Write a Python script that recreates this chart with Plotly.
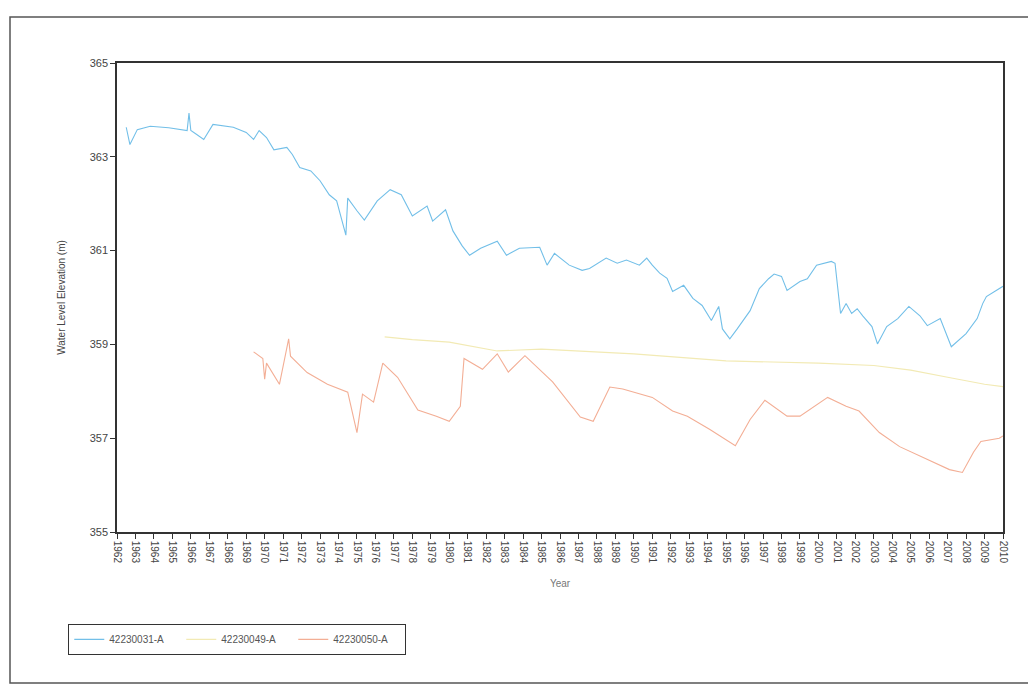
import plotly.graph_objects as go

# Series 42230031-A (blue)
blue_year = [1962.5, 1962.7, 1963.1, 1963.8, 1964.8, 1965.8, 1965.9, 1966.0, 1966.3, 1966.7, 1967.2, 1968.3,
             1969.0, 1969.4, 1969.7, 1970.1, 1970.5, 1971.2, 1971.5, 1971.9, 1972.5, 1973.0, 1973.5, 1973.9,
             1974.4, 1974.5, 1975.0, 1975.4, 1976.1, 1976.8, 1977.4, 1978.0, 1978.8, 1979.1, 1979.8, 1980.2,
             1980.7, 1981.1, 1981.7, 1982.6, 1983.1, 1983.8, 1984.9, 1985.3, 1985.7, 1986.5, 1987.2, 1987.6,
             1988.5, 1989.1, 1989.6, 1990.3, 1990.7, 1991.0, 1991.4, 1991.8, 1992.1, 1992.7, 1993.2, 1993.7,
             1994.2, 1994.6, 1994.8, 1995.2, 1995.6, 1996.3, 1996.8, 1997.3, 1997.6, 1998.0, 1998.3, 1999.0,
             1999.4, 1999.9, 2000.7, 2000.9, 2001.2, 2001.5, 2001.8, 2002.1, 2002.4, 2002.9, 2003.2, 2003.7,
             2004.3, 2004.9, 2005.5, 2005.9, 2006.6, 2007.0, 2007.2, 2008.0, 2008.6, 2008.9, 2009.1, 2010.0]
blue_val = [363.63, 363.26, 363.58, 363.65, 363.62, 363.56, 363.93, 363.56, 363.48, 363.37, 363.69, 363.63,
            363.52, 363.37, 363.56, 363.41, 363.15, 363.20, 363.05, 362.77, 362.70, 362.49, 362.19, 362.06,
            361.33, 362.12, 361.85, 361.65, 362.06, 362.30, 362.19, 361.74, 361.95, 361.63, 361.87, 361.42,
            361.10, 360.90, 361.05, 361.20, 360.90, 361.05, 361.07, 360.69, 360.94, 360.69, 360.58, 360.62,
            360.84, 360.73, 360.80, 360.69, 360.84, 360.69, 360.52, 360.41, 360.13, 360.26, 359.98, 359.83,
            359.51, 359.81, 359.33, 359.12, 359.33, 359.72, 360.19, 360.40, 360.50, 360.45, 360.15, 360.34,
            360.40, 360.69, 360.77, 360.73, 359.66, 359.87, 359.66, 359.76, 359.61, 359.38, 359.01, 359.38,
            359.55, 359.81, 359.61, 359.40, 359.55, 359.16, 358.95, 359.23, 359.55, 359.87, 360.02, 360.24]

# Series 42230049-A (yellow)
yellow_year = [1976.5, 1978.0, 1980.0, 1982.6, 1985.0, 1990.0, 1995.0, 2000.0, 2003.0, 2005.0, 2007.0, 2009.0, 2010.0]
yellow_val = [359.16, 359.10, 359.05, 358.86, 358.90, 358.80, 358.65, 358.60, 358.55, 358.45, 358.30, 358.15, 358.10]

# Series 42230050-A (orange/red)
red_year = [1969.4, 1969.9, 1970.0, 1970.1, 1970.8, 1971.3, 1971.4, 1972.3, 1973.4, 1974.5, 1975.0, 1975.3,
            1975.9, 1976.4, 1977.2, 1978.3, 1979.3, 1980.0, 1980.6, 1980.8, 1981.8, 1982.6, 1983.2, 1984.1,
            1985.6, 1987.1, 1987.8, 1988.7, 1989.4, 1991.0, 1992.1, 1992.9, 1994.1, 1995.0, 1995.5, 1996.3,
            1997.1, 1998.3, 1999.0, 2000.5, 2001.5, 2002.2, 2003.3, 2004.4, 2005.9, 2007.1, 2007.8, 2008.4,
            2008.8, 2009.8, 2010.0]
red_val = [358.84, 358.70, 358.26, 358.60, 358.15, 359.12, 358.75, 358.40, 358.15, 357.98, 357.12, 357.94,
           357.77, 358.60, 358.30, 357.60, 357.47, 357.36, 357.68, 358.70, 358.47, 358.80, 358.41, 358.76,
           358.20, 357.45, 357.36, 358.09, 358.05, 357.87, 357.58, 357.47, 357.19, 356.97, 356.84, 357.40,
           357.81, 357.47, 357.47, 357.87, 357.68, 357.58, 357.12, 356.82, 356.55, 356.33, 356.27, 356.70,
           356.93, 357.00, 357.05]

x_ticks = list(range(1962, 2011))
y_ticks = [355, 357, 359, 361, 363, 365]

fig = go.Figure()
fig.add_trace(go.Scatter(x=blue_year, y=blue_val, mode="lines", name="42230031-A",
                         line=dict(color="#72bfe8", width=1.1)))
fig.add_trace(go.Scatter(x=yellow_year, y=yellow_val, mode="lines", name="42230049-A",
                         line=dict(color="#f2eab4", width=1.2)))
fig.add_trace(go.Scatter(x=red_year, y=red_val, mode="lines", name="42230050-A",
                         line=dict(color="#f3ae95", width=1.1)))

fig.update_layout(
    width=1028, height=676,
    margin=dict(l=109, r=33, t=55, b=152),
    paper_bgcolor="white", plot_bgcolor="white",
    font=dict(family="Liberation Sans, Arial, sans-serif", color="#333333", size=10),
    showlegend=True,
    legend=dict(orientation="h", x=-0.055, y=-0.196, xanchor="left", yanchor="top",
                bordercolor="#333333", borderwidth=1, bgcolor="white",
                font=dict(size=10, color="#555555"), itemwidth=30, entrywidth=67),
    xaxis=dict(range=[1962, 2010], tickmode="array", tickvals=x_ticks,
               ticktext=[str(v) for v in x_ticks], tickangle=90,
               ticks="outside", ticklen=5, tickcolor="#333333",
               showline=True, linecolor="#333333", linewidth=1.5, mirror=True,
               showgrid=False, zeroline=False,
               title=dict(text="Year", font=dict(size=10, color="#777777"), standoff=18),
               tickfont=dict(size=10, color="#444444")),
    yaxis=dict(range=[355, 365], tickmode="array", tickvals=y_ticks,
               ticktext=[str(v) for v in y_ticks],
               ticks="outside", ticklen=5, tickcolor="#333333",
               showline=True, linecolor="#333333", linewidth=1.5, mirror=True,
               showgrid=False, zeroline=False,
               title=dict(text="Water Level Elevation (m)", font=dict(size=10, color="#444444"), standoff=22),
               tickfont=dict(size=11, color="#444444")),
    shapes=[dict(type="rect", xref="paper", yref="paper",
                 x0=-107/886, x1=1.05, y0=-151/469, y1=1 + 46/469,
                 line=dict(color="#555555", width=1.5))],
)

fig.write_html("out.html")
